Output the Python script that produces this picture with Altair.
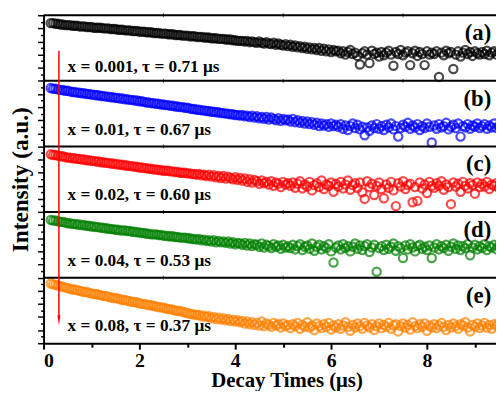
import altair as alt
import pandas as pd

# sampling grid of the decay traces (µs)
t_start = 0.15
t_step = 0.05

# normalized intensity within each panel (0 = bottom of panel, 1 = top)
panel_a = [
    0.88,0.88,0.87,0.87,0.86,0.86,0.85,0.85,0.85,0.84,0.84,0.84,0.83,0.83,0.83,0.82,0.82,0.82,0.81,0.81,
    0.81,0.81,0.80,0.80,0.80,0.79,0.79,0.79,0.78,0.78,0.78,0.77,0.77,0.77,0.76,0.76,0.76,0.75,0.75,0.75,
    0.74,0.74,0.74,0.73,0.73,0.73,0.72,0.72,0.72,0.71,0.71,0.71,0.70,0.70,0.70,0.69,0.69,0.69,0.68,0.68,
    0.68,0.67,0.67,0.67,0.66,0.66,0.66,0.65,0.65,0.65,0.64,0.64,0.64,0.63,0.63,0.63,0.62,0.62,0.61,0.61,
    0.61,0.60,0.61,0.59,0.60,0.59,0.58,0.60,0.58,0.57,0.59,0.57,0.56,0.58,0.55,0.57,0.55,0.54,0.56,0.53,
    0.55,0.52,0.54,0.51,0.53,0.50,0.52,0.49,0.51,0.48,0.50,0.47,0.50,0.46,0.49,0.45,0.48,0.44,0.47,0.45,
    0.46,0.42,0.45,0.40,0.44,0.47,0.41,0.43,0.38,0.25,0.42,0.45,0.40,0.27,0.46,0.41,0.43,0.37,0.44,0.39,
    0.43,0.46,0.40,0.23,0.44,0.41,0.47,0.39,0.43,0.45,0.24,0.42,0.46,0.38,0.44,0.41,0.24,0.45,0.40,0.43,
    0.41,0.45,0.06,0.43,0.39,0.46,0.42,0.44,0.18,0.40,0.45,0.37,0.43,0.47,0.41,0.44,0.38,0.45,0.42,0.40,
    0.44,0.41,0.46,0.39,0.43,0.45,0.40,0.44,
]
panel_b = [
    0.89,0.88,0.88,0.87,0.86,0.86,0.85,0.85,0.84,0.83,0.83,0.82,0.82,0.81,0.81,0.80,0.80,0.79,0.79,0.78,
    0.78,0.77,0.77,0.76,0.76,0.75,0.75,0.74,0.74,0.73,0.73,0.72,0.72,0.71,0.71,0.70,0.70,0.69,0.69,0.68,
    0.67,0.67,0.66,0.66,0.65,0.65,0.64,0.64,0.63,0.63,0.62,0.62,0.61,0.61,0.60,0.60,0.59,0.59,0.58,0.57,
    0.57,0.56,0.56,0.55,0.55,0.54,0.54,0.53,0.53,0.52,0.52,0.51,0.51,0.50,0.50,0.49,0.49,0.48,0.48,0.47,
    0.48,0.46,0.47,0.45,0.47,0.44,0.46,0.43,0.45,0.42,0.45,0.41,0.44,0.42,0.40,0.43,0.39,0.42,0.40,0.41,
    0.38,0.42,0.37,0.40,0.36,0.39,0.35,0.38,0.34,0.37,0.33,0.36,0.31,0.35,0.32,0.34,0.30,0.35,0.31,0.33,
    0.30,0.34,0.27,0.32,0.25,0.31,0.35,0.28,0.33,0.26,0.30,0.17,0.29,0.24,0.32,0.28,0.34,0.27,0.31,0.25,
    0.33,0.29,0.35,0.26,0.31,0.15,0.28,0.33,0.30,0.36,0.27,0.32,0.29,0.34,0.25,0.31,0.28,0.35,0.30,0.06,
    0.32,0.27,0.34,0.29,0.31,0.36,0.26,0.30,0.33,0.28,0.35,0.15,0.31,0.29,0.34,0.27,0.32,0.30,0.35,0.28,
    0.31,0.34,0.27,0.32,0.29,0.35,0.28,0.31,
]
panel_c = [
    0.88,0.87,0.87,0.86,0.85,0.85,0.84,0.83,0.83,0.82,0.82,0.81,0.81,0.80,0.80,0.79,0.79,0.78,0.78,0.77,
    0.77,0.76,0.76,0.75,0.75,0.74,0.74,0.73,0.73,0.72,0.72,0.71,0.71,0.70,0.70,0.69,0.69,0.68,0.68,0.67,
    0.67,0.66,0.66,0.65,0.65,0.64,0.64,0.63,0.63,0.63,0.62,0.62,0.61,0.61,0.60,0.60,0.60,0.59,0.59,0.58,
    0.58,0.57,0.58,0.56,0.57,0.55,0.57,0.54,0.56,0.53,0.55,0.52,0.55,0.51,0.54,0.52,0.50,0.53,0.49,0.52,
    0.48,0.51,0.46,0.50,0.45,0.49,0.47,0.43,0.48,0.44,0.46,0.42,0.47,0.40,0.45,0.43,0.38,0.46,0.42,0.44,
    0.40,0.45,0.37,0.43,0.47,0.36,0.42,0.39,0.46,0.33,0.41,0.44,0.38,0.48,0.35,0.42,0.40,0.45,0.31,0.43,
    0.39,0.46,0.36,0.42,0.48,0.34,0.41,0.44,0.37,0.45,0.30,0.20,0.47,0.38,0.43,0.26,0.40,0.45,0.35,0.21,
    0.42,0.37,0.46,0.33,0.09,0.44,0.39,0.47,0.35,0.41,0.43,0.15,0.38,0.17,0.45,0.36,0.42,0.29,0.46,0.40,
    0.37,0.44,0.40,0.47,0.34,0.42,0.38,0.12,0.45,0.39,0.43,0.31,0.46,0.40,0.36,0.44,0.41,0.28,0.45,0.38,
    0.43,0.39,0.46,0.35,0.42,0.40,0.44,0.37,
]
panel_d = [
    0.88,0.87,0.87,0.86,0.85,0.85,0.84,0.83,0.83,0.82,0.82,0.81,0.81,0.80,0.80,0.79,0.79,0.78,0.78,0.77,
    0.77,0.76,0.76,0.75,0.75,0.74,0.74,0.73,0.73,0.72,0.72,0.72,0.71,0.71,0.70,0.70,0.69,0.69,0.68,0.68,
    0.67,0.67,0.66,0.66,0.66,0.65,0.65,0.64,0.64,0.63,0.63,0.63,0.62,0.62,0.61,0.61,0.61,0.60,0.60,0.59,
    0.59,0.58,0.59,0.57,0.58,0.56,0.57,0.55,0.57,0.54,0.56,0.54,0.55,0.53,0.55,0.52,0.54,0.51,0.53,0.52,
    0.50,0.53,0.49,0.52,0.48,0.51,0.50,0.47,0.52,0.46,0.50,0.48,0.45,0.51,0.47,0.49,0.44,0.50,0.46,0.48,
    0.45,0.50,0.43,0.48,0.51,0.42,0.47,0.49,0.44,0.52,0.41,0.47,0.50,0.43,0.48,0.45,0.51,0.40,0.23,0.46,
    0.49,0.43,0.51,0.45,0.48,0.40,0.47,0.52,0.44,0.49,0.42,0.48,0.51,0.39,0.46,0.50,0.09,0.45,0.48,0.42,
    0.50,0.44,0.47,0.52,0.41,0.48,0.45,0.30,0.49,0.43,0.51,0.46,0.40,0.48,0.50,0.44,0.47,0.42,0.49,0.30,
    0.46,0.51,0.43,0.48,0.45,0.50,0.41,0.47,0.52,0.44,0.49,0.42,0.48,0.45,0.51,0.34,0.46,0.50,0.43,0.48,
    0.45,0.51,0.42,0.48,0.46,0.50,0.43,0.49,
]
panel_e = [
    0.91,0.90,0.89,0.88,0.87,0.86,0.85,0.84,0.83,0.82,0.82,0.81,0.80,0.79,0.78,0.78,0.77,0.76,0.75,0.75,
    0.74,0.73,0.72,0.72,0.71,0.70,0.69,0.69,0.68,0.67,0.66,0.66,0.65,0.64,0.63,0.63,0.62,0.61,0.60,0.60,
    0.59,0.58,0.58,0.57,0.56,0.55,0.55,0.54,0.53,0.52,0.52,0.51,0.50,0.49,0.49,0.48,0.47,0.46,0.45,0.44,
    0.44,0.43,0.43,0.41,0.42,0.40,0.41,0.38,0.40,0.37,0.39,0.36,0.38,0.35,0.37,0.34,0.36,0.33,0.35,0.32,
    0.34,0.30,0.33,0.29,0.32,0.28,0.31,0.27,0.33,0.26,0.30,0.28,0.25,0.31,0.27,0.29,0.24,0.30,0.26,0.28,
    0.23,0.29,0.26,0.31,0.22,0.28,0.25,0.32,0.24,0.27,0.20,0.30,0.26,0.23,0.29,0.25,0.31,0.21,0.27,0.24,
    0.29,0.22,0.27,0.32,0.25,0.19,0.28,0.24,0.30,0.26,0.22,0.31,0.27,0.24,0.29,0.20,0.26,0.30,0.23,0.28,
    0.25,0.31,0.22,0.27,0.29,0.18,0.26,0.30,0.24,0.28,0.21,0.32,0.26,0.23,0.29,0.25,0.30,0.19,0.27,0.24,
    0.29,0.23,0.27,0.31,0.25,0.20,0.28,0.24,0.30,0.26,0.22,0.29,0.27,0.32,0.24,0.18,0.28,0.25,0.30,0.23,
    0.27,0.31,0.24,0.28,0.22,0.29,0.26,0.30,
]

tags = ["a", "b", "c", "d", "e"]
labels = ["x = 0.001, τ = 0.71 μs", "x = 0.01, τ = 0.67 μs", "x = 0.02, τ = 0.60 μs",
          "x = 0.04, τ = 0.53 μs", "x = 0.08, τ = 0.37 μs"]
colors = ["#000000", "#0000ff", "#ff0000", "#008000", "#ff8000"]
series = [panel_a, panel_b, panel_c, panel_d, panel_e]
x_ticks = [0, 1, 2, 3, 4, 5, 6, 7, 8, 9]

FONT = "Liberation Serif"
X_MAX = 9.44
N = len(tags)

rows = []
for k, vals in enumerate(series):
    base = N - 1 - k
    for i, v in enumerate(vals):
        rows.append({"t": round(t_start + t_step * i, 3), "y": base + v, "panel": tags[k]})
df = pd.DataFrame(rows)

txt = pd.DataFrame({
    "t": [0.5] * N,
    "y": [N - 1 - k + (0.14 if k == 0 else 0.18) for k in range(N)],
    "text": labels,
})
tagdf = pd.DataFrame({
    "t": [9.34] * N,
    "y": [N - 1 - k + 0.62 for k in range(N)],
    "text": ["(" + t + ")" for t in tags],
})
sep = pd.DataFrame({"y": [1, 2, 3, 4, 5]})
septk = pd.DataFrame([{"t": tx, "y": yy} for yy in [1, 2, 3, 4, 5] for tx in [2.5, 5.0, 7.5]])
arrow = pd.DataFrame({"t": [0.32], "y": [4.46], "y2": [0.37]})
head = pd.DataFrame({"t": [0.32], "y": [0.35]})

y_ticks = [round(k + j * 0.1, 2) for k in range(N) for j in range(10)] + [N]

xs = alt.Scale(domain=[0, X_MAX], nice=False, zero=False)
ys = alt.Scale(domain=[0, N], nice=False, zero=False)
xaxis = alt.Axis(
    values=x_ticks, grid=False, title="Decay Times (μs)",
    labelExpr="datum.value % 2 == 0 ? datum.label : ''",
    tickSize={"condition": {"test": "datum.value % 2 == 0", "value": 6}, "value": 4},
    tickWidth=2, tickColor="black", domainColor="black", domainWidth=2,
    labelFont=FONT, labelFontWeight="bold", labelFontSize=20, labelColor="black", labelPadding=2,
    titleFont=FONT, titleFontWeight="bold", titleFontSize=21, titleColor="black",
    titleX=246, titleY=44, titleBaseline="alphabetic",
)
yaxis = alt.Axis(
    values=y_ticks, grid=False, labels=False, title="Intensity (a.u.)",
    tickSize={"condition": {"test": "round(datum.value * 10) % 2 == 0", "value": 6}, "value": 3},
    tickWidth=1.5, tickColor="black", domainColor="black", domainWidth=2,
    titleFont=FONT, titleFontWeight="bold", titleFontSize=23.5, titleColor="black",
    titleX=-16, titleY=166, titleBaseline="alphabetic", titleAlign="center",
)

def X(f="t"):
    return alt.X(f"{f}:Q", scale=xs, axis=xaxis)

def Y(f="y"):
    return alt.Y(f"{f}:Q", scale=ys, axis=yaxis)

points = alt.Chart(df).mark_point(shape="circle", filled=False, size=70, strokeWidth=2.2, clip=True).encode(
    x=X(), y=Y(),
    color=alt.Color("panel:N", scale=alt.Scale(domain=tags, range=colors), legend=None),
)
rules = alt.Chart(sep).mark_rule(color="black", strokeWidth=2).encode(y=Y())
septicks = alt.Chart(septk).mark_tick(orient="vertical", size=4, thickness=1, color="black").encode(x=X(), y=Y())
texts = alt.Chart(txt).mark_text(align="left", baseline="alphabetic", font=FONT, fontWeight="bold",
                                 fontSize=17.5, color="black").encode(x=X(), y=Y(), text="text:N")
tagtexts = alt.Chart(tagdf).mark_text(align="right", baseline="alphabetic", font=FONT, fontWeight="bold",
                                      fontSize=23, color="black").encode(x=X(), y=Y(), text="text:N")
arrow_line = alt.Chart(arrow).mark_rule(color="#ff0000", strokeWidth=1.5).encode(x=X(), y=Y(), y2="y2:Q")
arrow_head = alt.Chart(head).mark_point(shape="M-0.3,-1L0.3,-1L0,1Z", filled=True, size=100,
                                        color="#ff0000", opacity=1).encode(x=X(), y=Y())

chart = alt.layer(points, rules, septicks, texts, tagtexts, arrow_line, arrow_head).properties(
    width=458, height=332,
    autosize=alt.AutoSizeParams(type="none"),
    padding={"left": 36, "top": 5, "right": 0, "bottom": 46},
).configure_view(stroke=None)

chart.save("out.html", embed_options={"renderer": "svg", "actions": False})
